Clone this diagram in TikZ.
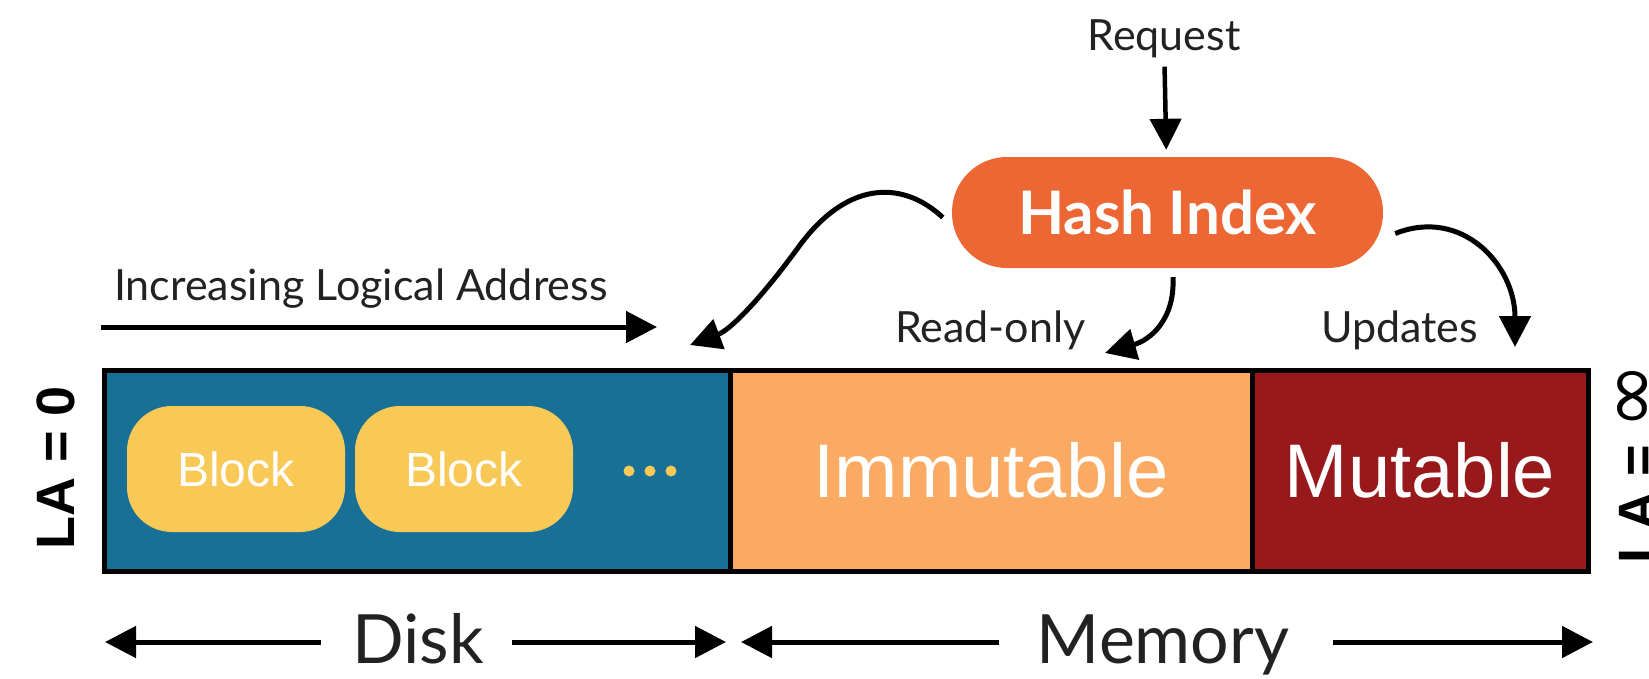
\documentclass[tikz,border=0pt]{standalone}
\usepackage{fontspec}
\setmainfont{Lato}
\newfontfamily\arialf{Liberation Sans}
\newfontfamily\dejavuf{DejaVu Sans}
\usetikzlibrary{arrows.meta}
\definecolor{diskblue}{HTML}{197096}
\definecolor{immorange}{HTML}{FBAA63}
\definecolor{mutred}{HTML}{98191B}
\definecolor{hashorange}{HTML}{EC6734}
\definecolor{blockyellow}{HTML}{F9C958}
\definecolor{labelgray}{HTML}{222222}
\tikzset{
  seg/.style={draw=black, line width=5pt, inner sep=0pt, minimum height=201pt, text=white,
    font=\arialf\fontsize{76}{80}\selectfont},
  blockbox/.style={fill=blockyellow, rounded corners=45pt, minimum width=218pt, minimum height=126pt,
    inner sep=0pt, text=white, font=\arialf\fontsize{48}{52}\selectfont},
  hashbox/.style={fill=hashorange, rounded corners=55pt, minimum width=431pt, minimum height=111pt,
    inner sep=0pt, text=white, font=\fontsize{60}{64}\selectfont\bfseries},
  lbl/.style={text=labelgray, inner sep=0pt, anchor=base, font=\fontsize{43}{46}\selectfont},
  biglbl/.style={text=labelgray, inner sep=0pt, anchor=base, font=\fontsize{68}{72}\selectfont},
  lalbl/.style={text=black, inner sep=0pt, anchor=base, rotate=90, font=\arialf\bfseries\fontsize{54}{58}\selectfont},
  arr/.style={draw=black, line width=5pt, -{Triangle[length=31pt, width=31pt]}},
  dot/.style={circle, fill=blockyellow, inner sep=0pt, minimum size=11pt},
}
\begin{document}
\begin{tikzpicture}[x=1pt, y=-1pt]
\useasboundingbox (0,0) rectangle (1649,678);
\clip (0,0) rectangle (1649,678);

% main bar segments
\node[seg, fill=diskblue, minimum width=626pt] (disk) at (417,470.5) {};
\node[seg, fill=immorange, minimum width=522pt] (immut) at (991,470.5) {Immutable};
\node[seg, fill=mutred, minimum width=336pt] (mut) at (1420,470.5) {Mutable};

% blocks
\node[blockbox] (b1) at (236,469) {Block};
\node[blockbox] (b2) at (464,469) {Block};
\node[dot] (d1) at (629,471) {};
\node[dot] (d2) at (650,471) {};
\node[dot] (d3) at (671,471) {};

% LA labels
\node[lalbl] (la0) at (74,468) {LA = 0};
\node[lalbl] (lainf) at (1656,463) {LA = {\dejavuf\mdseries\fontsize{80}{82}\selectfont ∞}};

% hash index
\node[hashbox] (hash) at (1167.5,212.5) {Hash Index};
\node[lbl] (req) at (1164,50) {Request};
\draw[arr, line width=4.5pt, shorten <=9pt, shorten >=7pt] (req) -- (hash);

% increasing logical address
\node[lbl, anchor=base west] (inc) at (114,300) {Increasing Logical Address};
\coordinate (incS) at (101,327);
\coordinate (incE) at (657,327);
\draw[arr] (incS) -- (incE);

% curved arrows
\coordinate (diskin) at (690,345);
\coordinate (immin) at (1105,353);
\coordinate (mutin) at (1515,347);
\draw[arr] ([shift={(-9,5)}]hash.west) .. controls (905,182) and (850,178) .. (800,245)
  .. controls (760,300) and (730,330) .. (diskin);
\draw[arr] ([shift={(5.5,9)}]hash.south) .. controls (1175,320) and (1150,340) .. (immin);
\draw[arr] ([shift={(12,21)}]hash.east) .. controls (1462,207) and (1515,265) .. (mutin);

\node[lbl, anchor=base west] (ro) at (895,342) {Read-only};
\node[lbl, anchor=base west] (up) at (1321,342) {Updates};

% bottom
\node[biglbl] (disklbl) at (418,663) {Disk};
\node[biglbl] (memlbl) at (1163,663) {Memory};
\coordinate (dL) at (105,642);
\coordinate (dLs) at (321,642);
\coordinate (dR) at (726,642);
\coordinate (dRs) at (512,642);
\coordinate (mL) at (741,642);
\coordinate (mLs) at (999,642);
\coordinate (mR) at (1593,642);
\coordinate (mRs) at (1333,642);
\draw[arr] (dLs) -- (dL);
\draw[arr] (dRs) -- (dR);
\draw[arr] (mLs) -- (mL);
\draw[arr] (mRs) -- (mR);
\end{tikzpicture}
\end{document}
